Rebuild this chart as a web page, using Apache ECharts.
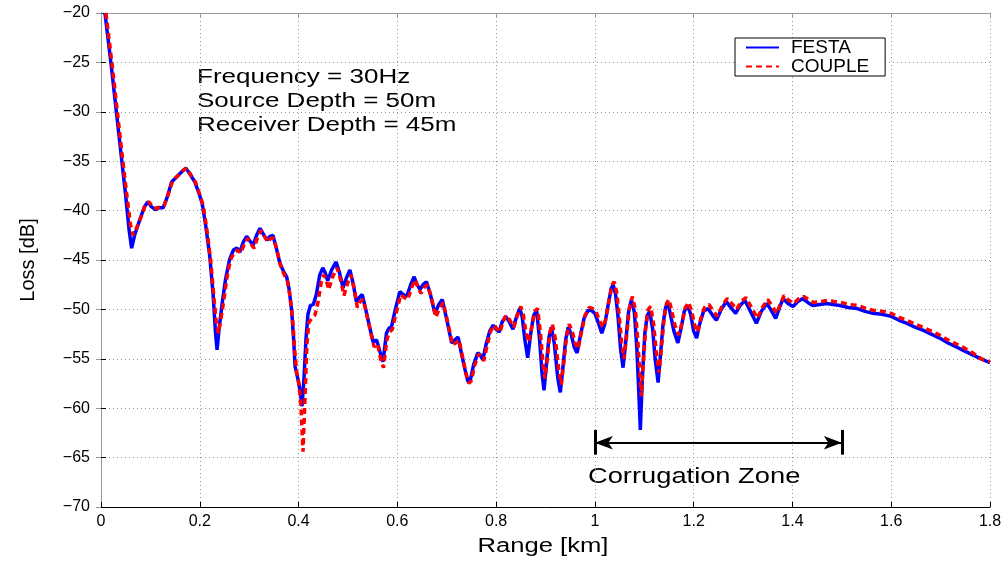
<!DOCTYPE html>
<html>
<head>
<meta charset="utf-8">
<script src="https://cdn.jsdelivr.net/npm/echarts@6/dist/echarts.min.js"></script>
<style>
  html, body { margin: 0; padding: 0; background: #fff; }
  #chart { width: 1008px; height: 561px; }
</style>
</head>
<body>
<div id="chart"></div>
<script>
// FESTA curve
const festaRange = [
  0.008, 0.02, 0.03, 0.04, 0.05, 0.057, 0.062, 0.068, 0.078, 0.088, 0.095, 0.102, 0.11, 0.118, 0.126, 0.135, 0.143, 0.155, 0.165, 0.172,
  0.18, 0.19, 0.198, 0.205, 0.212, 0.22, 0.227, 0.232, 0.235, 0.239, 0.245, 0.252, 0.26, 0.268, 0.275, 0.281, 0.288, 0.295, 0.302, 0.308,
  0.315, 0.322, 0.329, 0.336, 0.342, 0.348, 0.355, 0.362, 0.37, 0.376, 0.381, 0.386, 0.39, 0.393, 0.399, 0.404, 0.407, 0.411, 0.415, 0.419,
  0.424, 0.43, 0.436, 0.443, 0.449, 0.454, 0.459, 0.467, 0.476, 0.483, 0.49, 0.497, 0.504, 0.511, 0.517, 0.523, 0.529, 0.536, 0.544, 0.551,
  0.558, 0.565, 0.571, 0.578, 0.583, 0.588, 0.596, 0.605, 0.612, 0.619, 0.627, 0.634, 0.64, 0.646, 0.652, 0.659, 0.667, 0.676, 0.684, 0.691,
  0.7, 0.71, 0.716, 0.723, 0.73, 0.737, 0.743, 0.748, 0.755, 0.763, 0.768, 0.773, 0.78, 0.787, 0.794, 0.8, 0.806, 0.812, 0.819, 0.826,
  0.834, 0.841, 0.848, 0.853, 0.858, 0.864, 0.87, 0.876, 0.882, 0.888, 0.893, 0.897, 0.902, 0.907, 0.912, 0.918, 0.925, 0.93, 0.936, 0.941,
  0.946, 0.952, 0.958, 0.964, 0.97, 0.978, 0.986, 0.993, 1.0, 1.008, 1.014, 1.02, 1.027, 1.033, 1.037, 1.042, 1.047, 1.052, 1.057, 1.062,
  1.068, 1.074, 1.08, 1.085, 1.089, 1.092, 1.096, 1.101, 1.106, 1.111, 1.117, 1.122, 1.128, 1.133, 1.138, 1.143, 1.148, 1.153, 1.16, 1.168,
  1.175, 1.181, 1.188, 1.194, 1.2, 1.206, 1.212, 1.22, 1.229, 1.237, 1.246, 1.256, 1.266, 1.275, 1.285, 1.294, 1.304, 1.315, 1.327, 1.337,
  1.348, 1.356, 1.366, 1.374, 1.381, 1.391, 1.401, 1.411, 1.421, 1.431, 1.441, 1.455, 1.469, 1.482, 1.496, 1.513, 1.53, 1.547, 1.563, 1.581,
  1.6, 1.616, 1.631, 1.648, 1.664, 1.681, 1.698, 1.715, 1.732, 1.748, 1.765, 1.782, 1.8
];
const festaLoss = [
  -20, -25, -29.5, -34, -38.5, -42, -43.8, -42.5, -41, -39.6, -39.1, -39.6, -39.9, -39.7, -39.7, -38.5, -37.1, -36.5, -36, -35.7,
  -36.3, -37.1, -38.2, -39.3, -41.5, -44.5, -48.5, -52.5, -54.1, -52, -49.5, -47, -45, -44, -43.8, -44.2, -43.2, -42.6, -43.1, -43.5,
  -42.5, -41.8, -42.4, -43.0, -42.6, -42.5, -43.8, -45.3, -46.2, -46.7, -48, -50.1, -53, -55.8, -57.1, -58.5, -59.8, -57, -53, -50.5,
  -49.6, -49.5, -48.5, -46.5, -45.8, -46.3, -47.1, -46, -45.2, -46.3, -47.8, -46.8, -46.0, -47.5, -49.2, -48.8, -48.5, -50, -51.8, -53.3,
  -53.1, -54.3, -55.3, -52.4, -51.9, -51.8, -50, -48.2, -48.5, -48.7, -47.5, -46.7, -47.5, -48.0, -47.5, -47.2, -48.5, -50.4, -49.5, -49.0,
  -51, -53.4, -53.1, -52.8, -54.5, -56.1, -57.3, -57.1, -55.5, -54.4, -54.6, -55.1, -53.5, -52.2, -51.6, -52.0, -52.3, -51.3, -50.7, -51.2,
  -52.0, -50.8, -49.9, -50.8, -53, -54.9, -52.5, -50.6, -50.1, -53, -56.5, -58.2, -55.5, -52.8, -51.8, -53.5, -57, -58.4, -55.5, -53,
  -51.8, -52.5, -53.8, -54.4, -52.8, -50.9, -50.1, -50.1, -50.4, -51.5, -52.4, -51.5, -49.5, -47.9, -47.5, -48.5, -50.8, -54, -55.9, -53.5,
  -50.3, -49.0, -50.3, -54, -58.5, -62.2, -57, -52.5, -50.6, -50.2, -52, -55, -57.4, -54.5, -51.5, -49.8, -49.4, -50.5, -52.2, -53.4,
  -51.8, -50.2, -49.6, -50.5, -52.2, -52.9, -51.5, -50.2, -49.9, -50.5, -51.1, -50.0, -49.2, -49.8, -50.4, -49.6, -49.1, -50.2, -51.4, -50.2,
  -49.4, -50.0, -50.9, -49.8, -48.9, -49.4, -49.7, -49.2, -48.9, -49.3, -49.6, -49.5, -49.4, -49.5, -49.6, -49.8, -49.9, -50.2, -50.4, -50.5,
  -50.7, -51.1, -51.4, -51.8, -52.1, -52.5, -52.9, -53.4, -53.8, -54.2, -54.6, -55.0, -55.4
];

// COUPLE curve
const coupleRange = [
  0.01, 0.022, 0.032, 0.042, 0.052, 0.06, 0.065, 0.07, 0.08, 0.09, 0.097, 0.104, 0.112, 0.12, 0.128, 0.137, 0.145, 0.157, 0.167, 0.174,
  0.182, 0.192, 0.2, 0.207, 0.214, 0.222, 0.229, 0.234, 0.238, 0.242, 0.248, 0.255, 0.262, 0.27, 0.277, 0.283, 0.29, 0.297, 0.304, 0.31,
  0.317, 0.324, 0.331, 0.338, 0.344, 0.35, 0.357, 0.364, 0.372, 0.378, 0.383, 0.388, 0.392, 0.396, 0.401, 0.405, 0.409, 0.413, 0.417, 0.421,
  0.427, 0.433, 0.439, 0.446, 0.451, 0.456, 0.461, 0.469, 0.478, 0.485, 0.492, 0.499, 0.506, 0.513, 0.519, 0.525, 0.531, 0.538, 0.546, 0.553,
  0.56, 0.566, 0.572, 0.579, 0.584, 0.59, 0.598, 0.607, 0.614, 0.621, 0.629, 0.636, 0.642, 0.648, 0.654, 0.661, 0.669, 0.678, 0.686, 0.693,
  0.702, 0.712, 0.718, 0.725, 0.732, 0.739, 0.745, 0.75, 0.757, 0.765, 0.77, 0.775, 0.782, 0.789, 0.796, 0.802, 0.808, 0.814, 0.821, 0.828,
  0.836, 0.843, 0.85, 0.855, 0.86, 0.866, 0.872, 0.878, 0.884, 0.89, 0.895, 0.899, 0.904, 0.909, 0.914, 0.92, 0.927, 0.932, 0.938, 0.943,
  0.948, 0.954, 0.96, 0.966, 0.972, 0.98, 0.988, 0.995, 1.002, 1.01, 1.016, 1.022, 1.029, 1.035, 1.039, 1.044, 1.049, 1.054, 1.059, 1.064,
  1.07, 1.076, 1.082, 1.087, 1.091, 1.094, 1.098, 1.103, 1.108, 1.113, 1.119, 1.124, 1.13, 1.135, 1.14, 1.145, 1.15, 1.155, 1.162, 1.17,
  1.177, 1.183, 1.19, 1.196, 1.202, 1.208, 1.214, 1.222, 1.231, 1.239, 1.248, 1.258, 1.268, 1.277, 1.287, 1.296, 1.306, 1.317, 1.329, 1.339,
  1.35, 1.358, 1.368, 1.376, 1.383, 1.393, 1.403, 1.413, 1.423, 1.433, 1.443, 1.457, 1.471, 1.484, 1.498, 1.515, 1.532, 1.549, 1.565, 1.583,
  1.6, 1.616, 1.632, 1.648, 1.664, 1.681, 1.698, 1.715, 1.732, 1.748, 1.765, 1.782, 1.8
];
const coupleLoss = [
  -20, -25, -29.5, -34, -38.3, -41.5, -42.5, -42, -40.8, -39.4, -39.1, -39.6, -39.8, -39.6, -39.5, -38.2, -37.0, -36.4, -35.9, -35.7,
  -36.4, -37.2, -38.4, -39.5, -41.8, -45, -49, -51.6, -52.4, -51.2, -49.3, -46.8, -45, -44.2, -44, -44.3, -43.4, -42.8, -43.4, -43.8,
  -42.7, -42.0, -42.6, -43.2, -42.8, -42.8, -44.2, -45.6, -46.6, -47.2, -48.8, -51, -54, -56.3, -57.6, -60, -64.4, -59, -53.5, -51.3,
  -50.9, -50.6, -49.4, -47.2, -46.5, -47, -48, -46.7, -45.8, -47, -48.6, -47.4, -46.5, -48, -49.8, -49.2, -49.0, -50.5, -52.3, -53.8,
  -53.5, -55, -55.9, -53, -52.3, -52, -50.3, -48.5, -48.8, -49, -47.8, -47, -47.8, -48.4, -47.8, -47.5, -48.8, -50.8, -49.8, -49.3,
  -51.3, -53.6, -53.4, -53.1, -54.8, -56.5, -57.5, -57.2, -55.6, -54.5, -54.8, -55.2, -53.6, -52.2, -51.6, -52.0, -52.3, -51.2, -50.6, -51.1,
  -51.8, -50.6, -49.7, -50.5, -52.2, -53.3, -51.8, -50.2, -49.9, -52.5, -55.5, -57.0, -54.8, -52.3, -51.5, -53, -56.2, -57.6, -55, -52.6,
  -51.5, -52.2, -53.4, -54.0, -52.5, -50.6, -49.8, -49.9, -50.2, -51.2, -51.8, -51.0, -49.0, -47.5, -47.2, -48.2, -50.5, -53.3, -55.0, -52.8,
  -49.8, -48.7, -50.0, -53.2, -56.5, -58.8, -55.5, -51.8, -50.0, -49.7, -51.5, -54.2, -56.4, -53.8, -51.0, -49.4, -49.0, -50.0, -51.6, -52.6,
  -51.2, -49.8, -49.3, -50.2, -51.6, -52.3, -51.0, -49.8, -49.5, -50.1, -50.7, -49.6, -48.9, -49.4, -50.0, -49.2, -48.8, -49.8, -50.9, -49.8,
  -49.0, -49.6, -50.4, -49.4, -48.6, -49.1, -49.4, -48.9, -48.7, -49.0, -49.3, -49.2, -49.1, -49.2, -49.3, -49.5, -49.6, -49.9, -50.1, -50.2,
  -50.4, -50.8, -51.1, -51.5, -51.8, -52.2, -52.6, -53.1, -53.5, -53.9, -54.4, -55.0, -55.3
];

const seriesNames = ['FESTA', 'COUPLE']
const zoneStart = 1.0
const zoneEnd = 1.5
const zoneLevel = -63.5
const notes = ['Frequency = 30Hz', 'Source Depth = 50m', 'Receiver Depth = 45m']

const FONT = '"Liberation Sans", Arial, sans-serif'
// the original lettering is drawn wider than the font, so texts are stretched a bit
const WIDE = 1.3

const chart = echarts.init(document.getElementById('chart'), null, { renderer: 'canvas' })

function minus(v) {
  return String(v).replace('-', '\u2212')
}

const dotted = { show: true, lineStyle: { color: '#999', width: 1, type: [1, 3] } }

const option = {
  backgroundColor: '#fff',
  animation: false,
  grid: { left: 101, right: 18, top: 13, bottom: 54, containLabel: false },
  legend: {
    left: 735, top: 38,
    orient: 'vertical',
    data: seriesNames,
    backgroundColor: '#fff',
    borderColor: '#000',
    borderWidth: 1,
    borderRadius: 0,
    padding: [0, 16, 0, 10],
    itemGap: 0,
    itemWidth: 33,
    itemHeight: 18,
    itemStyle: { opacity: 0 },
    textStyle: { fontFamily: FONT, fontSize: 19, color: '#000', padding: [0, 0, 0, 7] }
  },
  xAxis: [{
    type: 'value', min: 0, max: 1.8, interval: 0.2,
    axisLine: { lineStyle: { color: '#000', width: 1 } },
    axisTick: { inside: true, length: 5, lineStyle: { color: '#000' } },
    axisLabel: { fontFamily: FONT, fontSize: 16, color: '#000', margin: 7, formatter: v => String(+v.toFixed(1)) },
    splitLine: dotted
  }, {
    type: 'value', min: 0, max: 1.8, interval: 0.2, position: 'top',
    axisLine: { show: true, lineStyle: { color: '#999', width: 1 } },
    axisTick: { show: true, inside: true, length: 5, lineStyle: { color: '#999' } },
    axisLabel: { show: false }, splitLine: { show: false }
  }],
  yAxis: [{
    type: 'value', min: -70, max: -20, interval: 5,
    name: 'Loss [dB]', nameLocation: 'middle', nameGap: 63,
    nameTextStyle: { fontFamily: FONT, fontSize: 20, color: '#000' },
    axisLine: { show: true, lineStyle: { color: '#000', width: 1 } },
    axisTick: { show: true, inside: true, length: 5, lineStyle: { color: '#000' } },
    axisLabel: { fontFamily: FONT, fontSize: 16, color: '#000', margin: 11, formatter: minus },
    splitLine: dotted
  }, {
    type: 'value', min: -70, max: -20, interval: 5, position: 'right',
    axisLine: { show: true, lineStyle: { color: '#999', width: 1 } },
    axisTick: { show: true, inside: true, length: 5, lineStyle: { color: '#999' } },
    axisLabel: { show: false }, splitLine: { show: false }
  }],
  series: [
    {
      name: seriesNames[0], type: 'line', symbol: 'none', z: 2,
      lineStyle: { color: '#0000ff', width: 3.5 },
      itemStyle: { color: '#0000ff' },
      data: festaRange.map((r, i) => [r, festaLoss[i]]),
      markLine: {
        silent: true, animation: false,
        symbol: ['arrow', 'arrow'], symbolSize: [10, 18],
        lineStyle: { color: '#000', width: 2, type: 'solid' },
        label: { show: false },
        data: [
          [{ coord: [zoneStart, zoneLevel] }, { coord: [zoneEnd, zoneLevel] }],
          [{ coord: [zoneStart, zoneLevel + 1.3], symbol: 'none', lineStyle: { width: 3 } }, { coord: [zoneStart, zoneLevel - 1.2], symbol: 'none' }],
          [{ coord: [zoneEnd, zoneLevel + 1.3], symbol: 'none', lineStyle: { width: 3 } }, { coord: [zoneEnd, zoneLevel - 1.2], symbol: 'none' }]
        ]
      }
    },
    {
      name: seriesNames[1], type: 'line', symbol: 'none', z: 3,
      lineStyle: { color: '#ff0000', width: 3.5, type: [6, 4] },
      itemStyle: { color: '#ff0000' },
      data: coupleRange.map((r, i) => [r, coupleLoss[i]])
    }
  ],
  graphic: [
    ...notes.map((t, i) => ({
      type: 'text', x: 197, y: 77 + i * 24.3, scaleX: WIDE,
      style: { text: t, font: '20px ' + FONT, fill: '#000', verticalAlign: 'middle' }
    })),
    {
      type: 'text', x: 588, y: 477, scaleX: 1.24,
      style: { text: 'Corrugation Zone', font: '22px ' + FONT, fill: '#000', verticalAlign: 'middle' }
    },
    {
      type: 'text', x: 543, y: 546, scaleX: 1.28,
      style: { text: 'Range [km]', font: '20px ' + FONT, fill: '#000', align: 'center', verticalAlign: 'middle' }
    }
  ]
}

chart.setOption(option)
</script>
</body>
</html>
